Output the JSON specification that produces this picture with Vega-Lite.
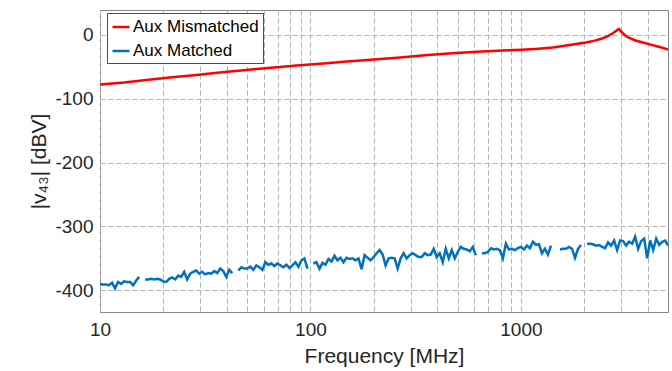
{
  "$schema": "https://vega.github.io/schema/vega-lite/v6.json",
  "width": 568,
  "height": 302,
  "autosize": {"type": "none"},
  "padding": {"left": 100, "top": 10, "right": 4, "bottom": 59},
  "background": "white",
  "config": {
    "view": {"stroke": "#868686", "strokeWidth": 1},
    "font": "Liberation Sans"
  },
  "data": {
    "values": [
      {"series": "Aux Mismatched", "freq": 10, "value": -77.8},
      {"series": "Aux Mismatched", "freq": 13, "value": -74.5},
      {"series": "Aux Mismatched", "freq": 16.6, "value": -70.6},
      {"series": "Aux Mismatched", "freq": 22, "value": -66.5},
      {"series": "Aux Mismatched", "freq": 28.7, "value": -62.7},
      {"series": "Aux Mismatched", "freq": 38, "value": -58.6},
      {"series": "Aux Mismatched", "freq": 49.7, "value": -54.9},
      {"series": "Aux Mismatched", "freq": 65, "value": -51.4},
      {"series": "Aux Mismatched", "freq": 86, "value": -48.1},
      {"series": "Aux Mismatched", "freq": 115, "value": -44.8},
      {"series": "Aux Mismatched", "freq": 149, "value": -41.8},
      {"series": "Aux Mismatched", "freq": 200, "value": -38.5},
      {"series": "Aux Mismatched", "freq": 258, "value": -35.6},
      {"series": "Aux Mismatched", "freq": 350, "value": -32},
      {"series": "Aux Mismatched", "freq": 472, "value": -28.8},
      {"series": "Aux Mismatched", "freq": 620, "value": -26.5},
      {"series": "Aux Mismatched", "freq": 817, "value": -24.6},
      {"series": "Aux Mismatched", "freq": 1000, "value": -23.3},
      {"series": "Aux Mismatched", "freq": 1174, "value": -22},
      {"series": "Aux Mismatched", "freq": 1415, "value": -19.9},
      {"series": "Aux Mismatched", "freq": 1705, "value": -15.7},
      {"series": "Aux Mismatched", "freq": 2033, "value": -12},
      {"series": "Aux Mismatched", "freq": 2250, "value": -9},
      {"series": "Aux Mismatched", "freq": 2449, "value": -5.2},
      {"series": "Aux Mismatched", "freq": 2600, "value": -1.5},
      {"series": "Aux Mismatched", "freq": 2734, "value": 2.6},
      {"series": "Aux Mismatched", "freq": 2850, "value": 7},
      {"series": "Aux Mismatched", "freq": 2920, "value": 9.4},
      {"series": "Aux Mismatched", "freq": 2990, "value": 5.5},
      {"series": "Aux Mismatched", "freq": 3051, "value": 2.6},
      {"series": "Aux Mismatched", "freq": 3150, "value": -1.5},
      {"series": "Aux Mismatched", "freq": 3296, "value": -5.2},
      {"series": "Aux Mismatched", "freq": 3500, "value": -8.8},
      {"series": "Aux Mismatched", "freq": 3801, "value": -12},
      {"series": "Aux Mismatched", "freq": 4100, "value": -14.8},
      {"series": "Aux Mismatched", "freq": 4384, "value": -17.3},
      {"series": "Aux Mismatched", "freq": 4700, "value": -20},
      {"series": "Aux Mismatched", "freq": 5000, "value": -22.8},

      {"series": "Aux Matched", "freq": 10, "value": -390},
      {"series": "Aux Matched", "freq": 10.33, "value": -391},
      {"series": "Aux Matched", "freq": 10.68, "value": -391},
      {"series": "Aux Matched", "freq": 11.04, "value": -392},
      {"series": "Aux Matched", "freq": 11.41, "value": -388},
      {"series": "Aux Matched", "freq": 11.79, "value": -397},
      {"series": "Aux Matched", "freq": 12.18, "value": -387},
      {"series": "Aux Matched", "freq": 12.59, "value": -390},
      {"series": "Aux Matched", "freq": 13.01, "value": -386},
      {"series": "Aux Matched", "freq": 13.44, "value": -387},
      {"series": "Aux Matched", "freq": 13.9, "value": -387},
      {"series": "Aux Matched", "freq": 14.36, "value": -392},
      {"series": "Aux Matched", "freq": 14.84, "value": -385},
      {"series": "Aux Matched", "freq": 15.34, "value": -379},
      {"series": "Aux Matched", "freq": 15.85, "value": null},
      {"series": "Aux Matched", "freq": 16.38, "value": -383},
      {"series": "Aux Matched", "freq": 16.93, "value": -383},
      {"series": "Aux Matched", "freq": 17.49, "value": -382},
      {"series": "Aux Matched", "freq": 18.08, "value": -383},
      {"series": "Aux Matched", "freq": 18.68, "value": -382},
      {"series": "Aux Matched", "freq": 19.31, "value": -383},
      {"series": "Aux Matched", "freq": 19.95, "value": -386},
      {"series": "Aux Matched", "freq": 20.62, "value": -387},
      {"series": "Aux Matched", "freq": 21.31, "value": -382},
      {"series": "Aux Matched", "freq": 22.02, "value": -380},
      {"series": "Aux Matched", "freq": 22.76, "value": -383},
      {"series": "Aux Matched", "freq": 23.52, "value": -377},
      {"series": "Aux Matched", "freq": 24.31, "value": -379},
      {"series": "Aux Matched", "freq": 25.12, "value": -371},
      {"series": "Aux Matched", "freq": 25.96, "value": -383},
      {"series": "Aux Matched", "freq": 26.83, "value": -374},
      {"series": "Aux Matched", "freq": 27.72, "value": -371},
      {"series": "Aux Matched", "freq": 28.65, "value": -369},
      {"series": "Aux Matched", "freq": 29.61, "value": -374},
      {"series": "Aux Matched", "freq": 30.6, "value": -371},
      {"series": "Aux Matched", "freq": 31.62, "value": -375},
      {"series": "Aux Matched", "freq": 32.68, "value": -373},
      {"series": "Aux Matched", "freq": 33.77, "value": -374},
      {"series": "Aux Matched", "freq": 34.9, "value": -370},
      {"series": "Aux Matched", "freq": 36.07, "value": -373},
      {"series": "Aux Matched", "freq": 37.28, "value": -366},
      {"series": "Aux Matched", "freq": 38.52, "value": -370},
      {"series": "Aux Matched", "freq": 39.81, "value": -379},
      {"series": "Aux Matched", "freq": 41.14, "value": -368},
      {"series": "Aux Matched", "freq": 42.52, "value": -373},
      {"series": "Aux Matched", "freq": 43.94, "value": null},
      {"series": "Aux Matched", "freq": 45.41, "value": -369},
      {"series": "Aux Matched", "freq": 46.93, "value": -364},
      {"series": "Aux Matched", "freq": 48.5, "value": -366},
      {"series": "Aux Matched", "freq": 50.12, "value": -366},
      {"series": "Aux Matched", "freq": 51.8, "value": -363},
      {"series": "Aux Matched", "freq": 53.53, "value": -368},
      {"series": "Aux Matched", "freq": 55.32, "value": -361},
      {"series": "Aux Matched", "freq": 57.17, "value": -364},
      {"series": "Aux Matched", "freq": 59.08, "value": -368},
      {"series": "Aux Matched", "freq": 61.05, "value": -356},
      {"series": "Aux Matched", "freq": 63.1, "value": -360},
      {"series": "Aux Matched", "freq": 65.21, "value": -358},
      {"series": "Aux Matched", "freq": 67.39, "value": -362},
      {"series": "Aux Matched", "freq": 69.64, "value": -358},
      {"series": "Aux Matched", "freq": 71.97, "value": -361},
      {"series": "Aux Matched", "freq": 74.38, "value": -364},
      {"series": "Aux Matched", "freq": 76.86, "value": -360},
      {"series": "Aux Matched", "freq": 79.43, "value": -365},
      {"series": "Aux Matched", "freq": 82.09, "value": -361},
      {"series": "Aux Matched", "freq": 84.83, "value": -356},
      {"series": "Aux Matched", "freq": 87.67, "value": -363},
      {"series": "Aux Matched", "freq": 90.6, "value": -353},
      {"series": "Aux Matched", "freq": 93.63, "value": -350},
      {"series": "Aux Matched", "freq": 96.76, "value": -366},
      {"series": "Aux Matched", "freq": 100, "value": null},
      {"series": "Aux Matched", "freq": 103.3, "value": -358},
      {"series": "Aux Matched", "freq": 106.8, "value": -356},
      {"series": "Aux Matched", "freq": 110.4, "value": -366},
      {"series": "Aux Matched", "freq": 114.1, "value": -357},
      {"series": "Aux Matched", "freq": 117.9, "value": -360},
      {"series": "Aux Matched", "freq": 121.8, "value": -351},
      {"series": "Aux Matched", "freq": 125.9, "value": -355},
      {"series": "Aux Matched", "freq": 130.1, "value": -346},
      {"series": "Aux Matched", "freq": 134.4, "value": -353},
      {"series": "Aux Matched", "freq": 139, "value": -349},
      {"series": "Aux Matched", "freq": 143.6, "value": -356},
      {"series": "Aux Matched", "freq": 148.4, "value": -349},
      {"series": "Aux Matched", "freq": 153.4, "value": -351},
      {"series": "Aux Matched", "freq": 158.5, "value": -350},
      {"series": "Aux Matched", "freq": 163.8, "value": -353},
      {"series": "Aux Matched", "freq": 169.3, "value": -350},
      {"series": "Aux Matched", "freq": 174.9, "value": -367},
      {"series": "Aux Matched", "freq": 180.8, "value": -345},
      {"series": "Aux Matched", "freq": 186.8, "value": -349},
      {"series": "Aux Matched", "freq": 193.1, "value": -353},
      {"series": "Aux Matched", "freq": 199.5, "value": -348},
      {"series": "Aux Matched", "freq": 206.2, "value": -342},
      {"series": "Aux Matched", "freq": 213.1, "value": -337},
      {"series": "Aux Matched", "freq": 220.2, "value": -344},
      {"series": "Aux Matched", "freq": 227.6, "value": -361},
      {"series": "Aux Matched", "freq": 235.2, "value": -350},
      {"series": "Aux Matched", "freq": 243.1, "value": -349},
      {"series": "Aux Matched", "freq": 251.2, "value": -350},
      {"series": "Aux Matched", "freq": 259.6, "value": -366},
      {"series": "Aux Matched", "freq": 268.3, "value": -350},
      {"series": "Aux Matched", "freq": 277.2, "value": -342},
      {"series": "Aux Matched", "freq": 286.5, "value": -350},
      {"series": "Aux Matched", "freq": 296.1, "value": -345},
      {"series": "Aux Matched", "freq": 306, "value": -342},
      {"series": "Aux Matched", "freq": 316.2, "value": -345},
      {"series": "Aux Matched", "freq": 326.8, "value": -348},
      {"series": "Aux Matched", "freq": 337.7, "value": -348},
      {"series": "Aux Matched", "freq": 349, "value": -342},
      {"series": "Aux Matched", "freq": 360.7, "value": -345},
      {"series": "Aux Matched", "freq": 372.8, "value": -344},
      {"series": "Aux Matched", "freq": 385.2, "value": -335},
      {"series": "Aux Matched", "freq": 398.1, "value": -348},
      {"series": "Aux Matched", "freq": 411.4, "value": -342},
      {"series": "Aux Matched", "freq": 425.2, "value": -356},
      {"series": "Aux Matched", "freq": 439.4, "value": -335},
      {"series": "Aux Matched", "freq": 454.1, "value": -350},
      {"series": "Aux Matched", "freq": 469.3, "value": -337},
      {"series": "Aux Matched", "freq": 485, "value": -350},
      {"series": "Aux Matched", "freq": 501.2, "value": -340},
      {"series": "Aux Matched", "freq": 518, "value": -332},
      {"series": "Aux Matched", "freq": 535.3, "value": -335},
      {"series": "Aux Matched", "freq": 553.2, "value": -336},
      {"series": "Aux Matched", "freq": 571.7, "value": -339},
      {"series": "Aux Matched", "freq": 590.8, "value": -332},
      {"series": "Aux Matched", "freq": 610.5, "value": -345},
      {"series": "Aux Matched", "freq": 631, "value": null},
      {"series": "Aux Matched", "freq": 652.1, "value": -342},
      {"series": "Aux Matched", "freq": 673.9, "value": -342},
      {"series": "Aux Matched", "freq": 696.4, "value": -340},
      {"series": "Aux Matched", "freq": 719.7, "value": -334},
      {"series": "Aux Matched", "freq": 743.8, "value": -336},
      {"series": "Aux Matched", "freq": 768.6, "value": -335},
      {"series": "Aux Matched", "freq": 794.3, "value": -337},
      {"series": "Aux Matched", "freq": 820.9, "value": -350},
      {"series": "Aux Matched", "freq": 848.3, "value": -327},
      {"series": "Aux Matched", "freq": 876.7, "value": -336},
      {"series": "Aux Matched", "freq": 906, "value": -335},
      {"series": "Aux Matched", "freq": 936.3, "value": -337},
      {"series": "Aux Matched", "freq": 967.6, "value": -334},
      {"series": "Aux Matched", "freq": 1000, "value": -332},
      {"series": "Aux Matched", "freq": 1033, "value": -336},
      {"series": "Aux Matched", "freq": 1068, "value": -330},
      {"series": "Aux Matched", "freq": 1104, "value": -334},
      {"series": "Aux Matched", "freq": 1141, "value": -324},
      {"series": "Aux Matched", "freq": 1179, "value": -329},
      {"series": "Aux Matched", "freq": 1218, "value": -328},
      {"series": "Aux Matched", "freq": 1259, "value": -342},
      {"series": "Aux Matched", "freq": 1301, "value": -335},
      {"series": "Aux Matched", "freq": 1344, "value": -344},
      {"series": "Aux Matched", "freq": 1390, "value": -330},
      {"series": "Aux Matched", "freq": 1436, "value": null},
      {"series": "Aux Matched", "freq": 1484, "value": null},
      {"series": "Aux Matched", "freq": 1534, "value": -336},
      {"series": "Aux Matched", "freq": 1585, "value": -335},
      {"series": "Aux Matched", "freq": 1638, "value": -335},
      {"series": "Aux Matched", "freq": 1693, "value": -332},
      {"series": "Aux Matched", "freq": 1749, "value": -335},
      {"series": "Aux Matched", "freq": 1808, "value": -349},
      {"series": "Aux Matched", "freq": 1868, "value": -335},
      {"series": "Aux Matched", "freq": 1931, "value": -329},
      {"series": "Aux Matched", "freq": 1995, "value": null},
      {"series": "Aux Matched", "freq": 2062, "value": -327},
      {"series": "Aux Matched", "freq": 2131, "value": -327},
      {"series": "Aux Matched", "freq": 2202, "value": -328},
      {"series": "Aux Matched", "freq": 2276, "value": -330},
      {"series": "Aux Matched", "freq": 2352, "value": -329},
      {"series": "Aux Matched", "freq": 2431, "value": -332},
      {"series": "Aux Matched", "freq": 2512, "value": -334},
      {"series": "Aux Matched", "freq": 2596, "value": -325},
      {"series": "Aux Matched", "freq": 2683, "value": -330},
      {"series": "Aux Matched", "freq": 2772, "value": -322},
      {"series": "Aux Matched", "freq": 2865, "value": -337},
      {"series": "Aux Matched", "freq": 2961, "value": -322},
      {"series": "Aux Matched", "freq": 3060, "value": -323},
      {"series": "Aux Matched", "freq": 3162, "value": -330},
      {"series": "Aux Matched", "freq": 3268, "value": -324},
      {"series": "Aux Matched", "freq": 3377, "value": -327},
      {"series": "Aux Matched", "freq": 3490, "value": -316},
      {"series": "Aux Matched", "freq": 3607, "value": -335},
      {"series": "Aux Matched", "freq": 3728, "value": -323},
      {"series": "Aux Matched", "freq": 3852, "value": -319},
      {"series": "Aux Matched", "freq": 3981, "value": -350},
      {"series": "Aux Matched", "freq": 4114, "value": -322},
      {"series": "Aux Matched", "freq": 4252, "value": -337},
      {"series": "Aux Matched", "freq": 4394, "value": -319},
      {"series": "Aux Matched", "freq": 4541, "value": -329},
      {"series": "Aux Matched", "freq": 4693, "value": -324},
      {"series": "Aux Matched", "freq": 4850, "value": -322},
      {"series": "Aux Matched", "freq": 5000, "value": -330}
    ]
  },
  "mark": {"type": "line", "strokeWidth": 2.5, "clip": true, "invalid": "break-paths-show-domains"},
  "encoding": {
    "x": {
      "field": "freq",
      "type": "quantitative",
      "scale": {"type": "log", "domain": [10, 5000], "nice": false},
      "axis": {
        "title": "Frequency [MHz]",
        "values": [10, 20, 30, 40, 50, 60, 70, 80, 90, 100, 200, 300, 400, 500, 600, 700, 800, 900, 1000, 2000, 3000, 4000],
        "labelExpr": "(datum.value == 10 || datum.value == 100 || datum.value == 1000) ? (datum.value + '') : ''",
        "labelOverlap": false,
        "labelFlush": false,
        "grid": true,
        "gridColor": "#b3b3b3",
        "gridDash": [5, 3],
        "gridWidth": 1,
        "ticks": false,
        "domain": false,
        "labelPadding": 8,
        "labelFontSize": 19,
        "labelColor": "#262626",
        "labelFont": "Liberation Sans",
        "titleFont": "Liberation Sans",
        "titleFontSize": 21,
        "titleFontWeight": "normal",
        "titleColor": "#262626",
        "titleY": 33
      }
    },
    "y": {
      "field": "value",
      "type": "quantitative",
      "scale": {"domain": [-434, 39], "nice": false, "zero": false},
      "axis": {
        "title": "|v₄₃| [dBV]",
        "values": [0, -100, -200, -300, -400],
        "labelExpr": "datum.value + ''",
        "grid": true,
        "gridColor": "#b3b3b3",
        "gridDash": [5, 3],
        "gridWidth": 1,
        "ticks": false,
        "domain": false,
        "labelPadding": 7,
        "labelFontSize": 19,
        "labelColor": "#262626",
        "labelFont": "Liberation Sans",
        "titleFont": "Liberation Sans",
        "titleFontSize": 21,
        "titleFontWeight": "normal",
        "titleColor": "#262626",
        "titleX": -51
      }
    },
    "color": {
      "field": "series",
      "type": "nominal",
      "scale": {"domain": ["Aux Mismatched", "Aux Matched"], "range": ["#ff0000", "#0072bd"]},
      "legend": {
        "title": null,
        "orient": "none",
        "legendX": 7,
        "legendY": 3,
        "padding": 4,
        "fillColor": "white",
        "strokeColor": "#4d4d4d",
        "cornerRadius": 0,
        "symbolType": "stroke",
        "symbolSize": 289,
        "symbolStrokeWidth": 2.5,
        "labelFontSize": 17,
        "labelFont": "Liberation Sans",
        "labelColor": "#000000",
        "labelOffset": 2,
        "rowPadding": 6,
        "labelLimit": 300
      }
    }
  }
}
